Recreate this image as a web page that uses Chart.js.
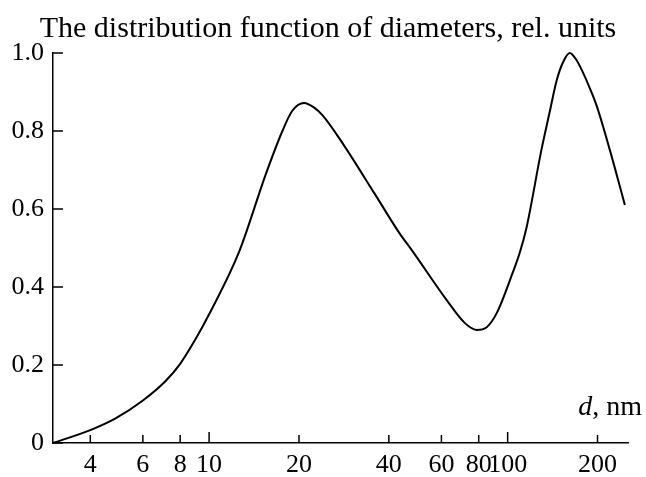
<!DOCTYPE html>
<html>
<head>
<meta charset="utf-8">
<script src="https://cdn.jsdelivr.net/npm/chart.js@4"></script>
<style>
  html, body { margin: 0; padding: 0; background: #fff; }
  #wrap { width: 646px; height: 477px; }
</style>
</head>
<body>
<div id="wrap"><canvas id="chart"></canvas></div>
<script>
// values (d in nm, distribution in rel. units)
const diameters = [3.0, 4.0, 4.86, 6.0, 7.15, 8.0, 9.02, 10.0, 12.6, 15.5, 17.6, 19.0, 20.8, 22.5, 24.0, 27.3, 35.8, 43.4, 48.0, 62.4, 71.8, 78.7, 85.1, 91.9, 103.9, 109.7, 115.8, 129.7, 138.4, 146.0, 153.0, 161.5, 170.0, 179.0, 188.4, 198.6, 220.0, 247.0];
const distribution = [0, 0.033, 0.063, 0.109, 0.159, 0.203, 0.267, 0.33, 0.49, 0.69, 0.80, 0.852, 0.872, 0.86, 0.84, 0.781, 0.64, 0.538, 0.492, 0.367, 0.308, 0.290, 0.297, 0.333, 0.436, 0.487, 0.554, 0.751, 0.85, 0.93, 0.975, 1.0, 0.982, 0.949, 0.91, 0.865, 0.751, 0.61];
const xTicks = [4, 6, 8, 10, 20, 40, 60, 80, 100, 200];
const yTicks = [0, 0.2, 0.4, 0.6, 0.8, 1.0];

const titleText = 'The distribution function of diameters, rel. units';
const serif = "'Liberation Serif', 'Times New Roman', serif";

// title, ticks drawn inward from the axes, and the "d, nm" axis label
const decorations = {
  id: 'decorations',
  afterDraw(chart) {
    const ctx = chart.ctx;
    const x = chart.scales.x, y = chart.scales.y;
    const area = chart.chartArea;
    ctx.save();
    ctx.strokeStyle = '#000';
    ctx.lineWidth = 1.5;
    ctx.beginPath();
    xTicks.forEach(v => {
      const px = x.getPixelForValue(v);
      const len = (v === 10 || v === 100) ? 11 : 8;
      ctx.moveTo(px, area.bottom);
      ctx.lineTo(px, area.bottom - len);
    });
    yTicks.forEach(v => {
      const py = y.getPixelForValue(v);
      ctx.moveTo(area.left, py);
      ctx.lineTo(area.left + 10, py);
    });
    ctx.stroke();

    ctx.fillStyle = '#000';
    ctx.textAlign = 'center';
    ctx.textBaseline = 'middle';
    ctx.font = '30px ' + serif;
    ctx.fillText(titleText, 328, 29);

    ctx.textAlign = 'left';
    ctx.textBaseline = 'alphabetic';
    ctx.font = 'italic 28px ' + serif;
    const w1 = ctx.measureText('d').width;
    ctx.font = '28px ' + serif;
    const w2 = ctx.measureText(', nm').width;
    const start = 642 - w1 - w2;
    ctx.font = 'italic 28px ' + serif;
    ctx.fillText('d', start, 415);
    ctx.font = '28px ' + serif;
    ctx.fillText(', nm', start + w1, 415);
    ctx.restore();
  }
};

const ctx = document.getElementById('chart').getContext('2d');
const chart = new Chart(ctx, {
  type: 'scatter',
  data: {
    datasets: [{
      data: diameters.map((d, i) => ({ x: d, y: distribution[i] })),
      showLine: true,
      borderColor: '#000',
      borderWidth: 2,
      pointRadius: 0,
      cubicInterpolationMode: 'monotone',
      clip: false
    }]
  },
  options: {
    responsive: true,
    maintainAspectRatio: false,
    animation: false,
    layout: { padding: { left: 0, right: 18, top: 53, bottom: 0 } },
    plugins: {
      legend: { display: false },
      tooltip: { enabled: false },
      title: { display: false }
    },
    scales: {
      x: {
        type: 'logarithmic',
        min: 3,
        max: 253,
        afterBuildTicks: s => { s.ticks = xTicks.map(v => ({ value: v })); },
        afterFit: s => { s.height = 34; },
        grid: { display: false, drawTicks: false },
        border: { display: true, color: '#000', width: 1.5 },
        ticks: {
          color: '#000',
          font: { family: serif, size: 26 },
          padding: 7,
          autoSkip: false,
          maxRotation: 0,
          callback: v => String(v)
        }
      },
      y: {
        min: 0,
        max: 1,
        afterBuildTicks: s => { s.ticks = yTicks.map(v => ({ value: v })); },
        afterFit: s => { s.width = 53; },
        grid: { display: false, drawTicks: false },
        border: { display: true, color: '#000', width: 1.5 },
        ticks: {
          color: '#000',
          font: { family: serif, size: 26 },
          padding: 9,
          callback: v => v === 0 ? '0' : v.toFixed(1)
        }
      }
    }
  },
  plugins: [decorations]
});
</script>
</body>
</html>
